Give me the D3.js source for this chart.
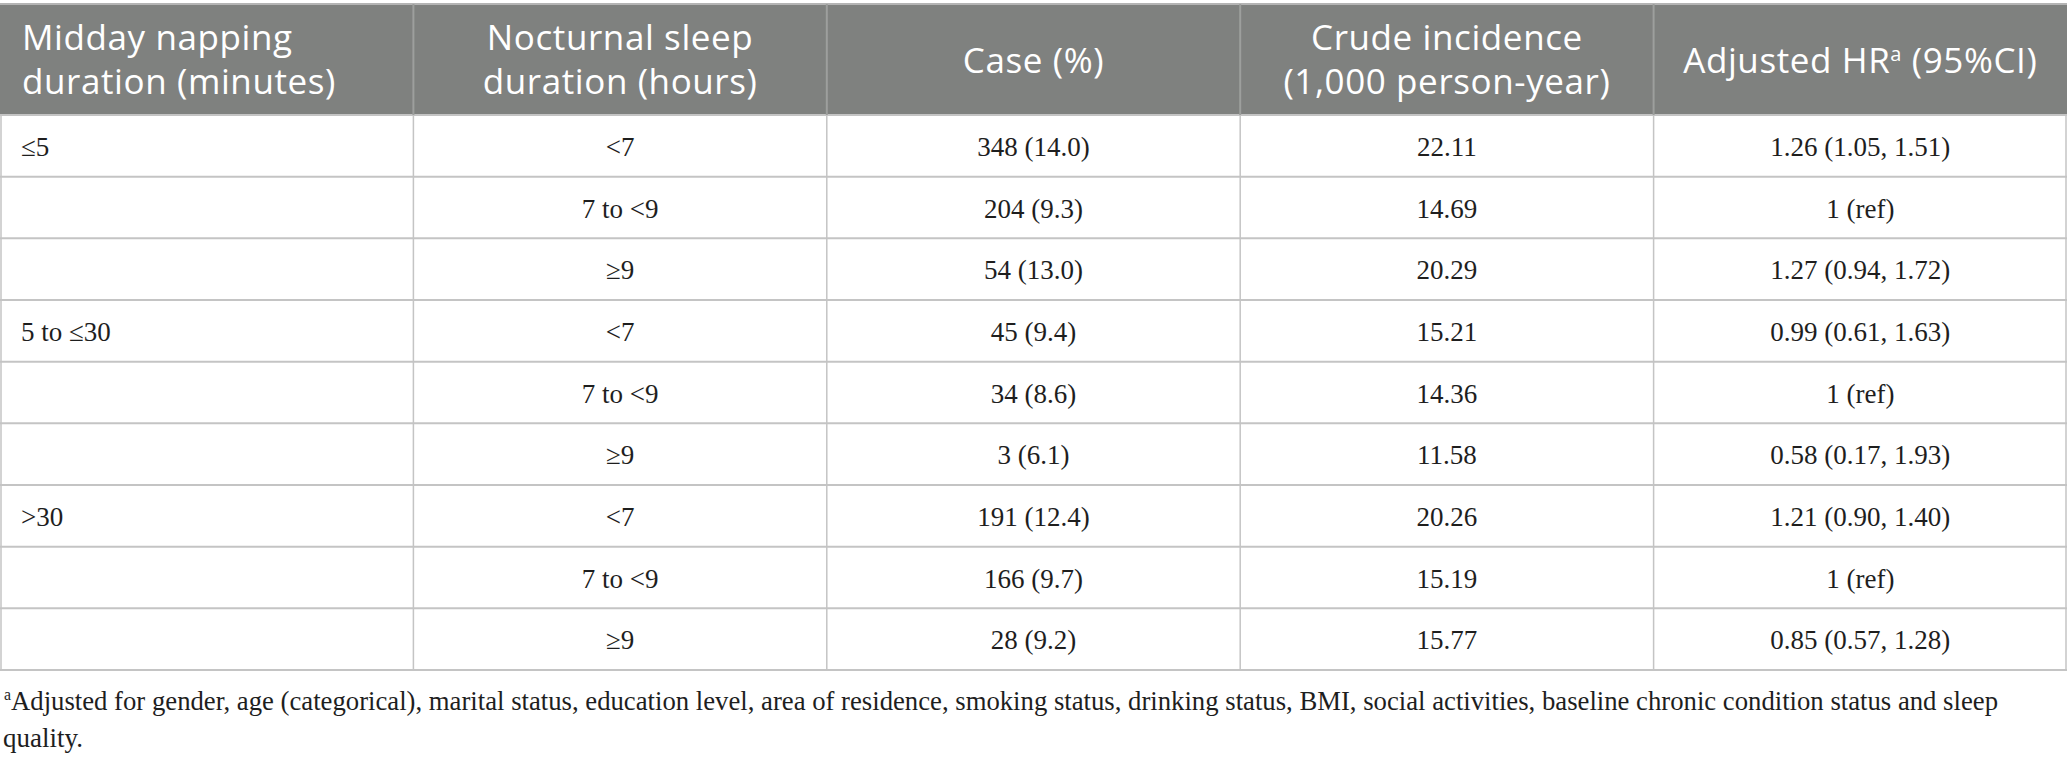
<!DOCTYPE html>
<html>
<head>
<meta charset="utf-8">
<script src="https://cdn.jsdelivr.net/npm/d3@7"></script>
<style>
  body { margin: 0; background: #fff; }
</style>
</head>
<body>
<script>
var width = 2067;
var height = 760;
var headTop = 4;
var headBottom = 115;
var tableBottom = 670;

// column headers, one array entry per line
var headers = [
  ["Midday napping", "duration (minutes)"],
  ["Nocturnal sleep", "duration (hours)"],
  ["Case (%)"],
  ["Crude incidence", "(1,000 person-year)"],
  ["Adjusted HR|a| (95%CI)"]
];

var napping = ["\u22645", "", "", "5 to \u226430", "", "", ">30", "", ""];
var nocturnal = ["<7", "7 to <9", "\u22659", "<7", "7 to <9", "\u22659", "<7", "7 to <9", "\u22659"];
var cases = ["348 (14.0)", "204 (9.3)", "54 (13.0)", "45 (9.4)", "34 (8.6)", "3 (6.1)", "191 (12.4)", "166 (9.7)", "28 (9.2)"];
var incidence = ["22.11", "14.69", "20.29", "15.21", "14.36", "11.58", "20.26", "15.19", "15.77"];
var hazard = ["1.26 (1.05, 1.51)", "1 (ref)", "1.27 (0.94, 1.72)", "0.99 (0.61, 1.63)", "1 (ref)",
              "0.58 (0.17, 1.93)", "1.21 (0.90, 1.40)", "1 (ref)", "0.85 (0.57, 1.28)"];

var footnote = ["Adjusted for gender, age (categorical), marital status, education level, area of residence, smoking status, drinking status, BMI, social activities, baseline chronic condition status and sleep",
                "quality."];

var columns = [napping, nocturnal, cases, incidence, hazard];

var svg = d3.select('body').append('svg').attr('width', width)
  .attr('height', height);

var x = d3.scaleBand().domain(d3.range(columns.length)).range([0, width]);
var y = d3.scaleBand().domain(d3.range(napping.length)).range([headBottom, tableBottom]);

// header block
svg.append('rect')
  .attr('x', 0).attr('y', headTop)
  .attr('width', width).attr('height', headBottom - headTop)
  .style('fill', '#7f817f');
svg.append('line')
  .attr('x1', 0).attr('x2', width).attr('y1', headTop).attr('y2', headTop)
  .style('stroke', '#b4b4b4').style('stroke-width', 2);

// row rules
svg.selectAll('line.row').data(d3.range(napping.length + 1)).enter().append('line')
  .attr('class', 'row')
  .attr('x1', 0).attr('x2', width)
  .attr('y1', function(d) { return d < napping.length ? y(d) : tableBottom; })
  .attr('y2', function(d) { return d < napping.length ? y(d) : tableBottom; })
  .style('stroke', '#c4c4c4').style('stroke-width', 2);

// column rules, darker inside the header
var colEdges = d3.range(columns.length + 1).map(function(i) {
  return i < columns.length ? x(i) : width;
});
colEdges[0] = 1;
colEdges[columns.length] = width - 1;

svg.selectAll('line.colhead').data(colEdges.slice(1, -1)).enter().append('line')
  .attr('class', 'colhead')
  .attr('x1', function(d) { return d; }).attr('x2', function(d) { return d; })
  .attr('y1', headTop).attr('y2', headBottom)
  .style('stroke', '#9d9f9d').style('stroke-width', 2);

svg.selectAll('line.col').data(colEdges).enter().append('line')
  .attr('class', 'col')
  .attr('x1', function(d) { return d; }).attr('x2', function(d) { return d; })
  .attr('y1', headBottom).attr('y2', tableBottom)
  .style('stroke', '#c4c4c4').style('stroke-width', 1.5);

// header labels
var headX = function(i) { return i === 0 ? 22 : x(i) + x.bandwidth() / 2; };

headers.forEach(function(lines, i) {
  var base = lines.length === 2 ? [50, 94] : [73];
  lines.forEach(function(line, k) {
    var t = svg.append('text')
      .attr('x', headX(i)).attr('y', base[k])
      .attr('text-anchor', i === 0 ? 'start' : 'middle')
      .style('font-family', '"Open Sans", sans-serif')
      .style('font-size', '35px')
      .style('letter-spacing', '0.6px')
      .style('fill', '#fff');
    line.split('|').forEach(function(part, p) {
      var ts = t.append('tspan').text(part);
      if (p === 1) {
        ts.style('font-size', '20px').attr('baseline-shift', '12px');
      }
    });
  });
});

// body cells
columns.forEach(function(col, i) {
  svg.selectAll('text.c' + i).data(col).enter().append('text')
    .attr('class', 'c' + i)
    .attr('x', headX(i) - (i === 0 ? 1 : 0))
    .attr('y', function(d, r) { return y(r) + y.bandwidth() / 2 + 10; })
    .attr('text-anchor', i === 0 ? 'start' : 'middle')
    .style('font-family', '"Liberation Serif", "Times New Roman", serif')
    .style('font-size', '27px')
    .style('fill', '#1e1e1e')
    .text(function(d) { return d; });
});

// footnote
var note = svg.append('text')
  .attr('x', 4).attr('y', 710)
  .attr('textLength', 1994).attr('lengthAdjust', 'spacingAndGlyphs')
  .style('font-family', '"Liberation Serif", "Times New Roman", serif')
  .style('font-size', '27px')
  .style('fill', '#1e1e1e');
note.append('tspan').text('a').style('font-size', '16px').attr('baseline-shift', '10px');
note.append('tspan').text(footnote[0]);

svg.append('text')
  .attr('x', 3).attr('y', 747)
  .style('font-family', '"Liberation Serif", "Times New Roman", serif')
  .style('font-size', '27px')
  .style('fill', '#1e1e1e')
  .text(footnote[1]);
</script>
</body>
</html>
